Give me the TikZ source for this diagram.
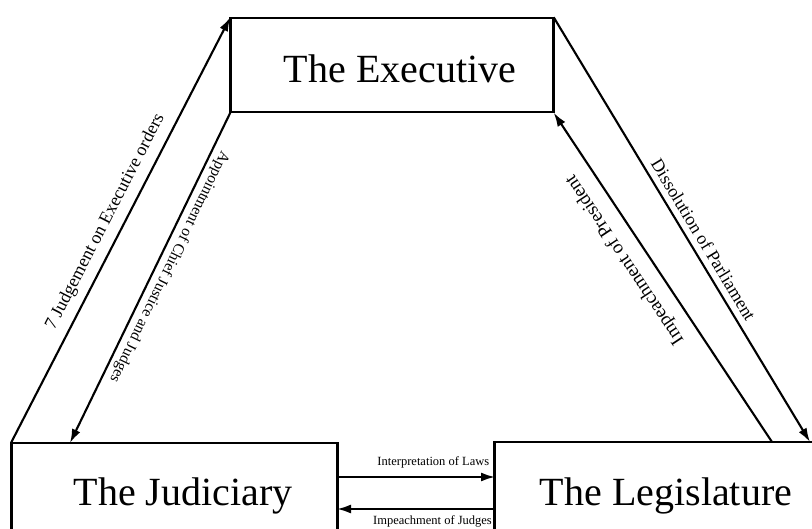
\documentclass[tikz,border=0pt]{standalone}
\usepackage{fontspec}
\setmainfont{Liberation Serif}
\usetikzlibrary{arrows.meta}
\begin{document}
\begin{tikzpicture}[x=1pt,y=-1pt,
  box/.style={draw, line width=1.4pt, inner sep=0pt},
  edge/.style={line width=2.6pt},
  arr/.style={line width=2.1pt, -{Latex[length=14pt,width=9pt]}},
  title/.style={font=\fontsize{40}{40}\selectfont, anchor=base, inner sep=0pt},
  lab/.style={anchor=south, inner sep=0pt},
  small/.style={font=\fontsize{12.5}{12.5}\selectfont, inner sep=0pt}]
\useasboundingbox (0,0) rectangle (812,529);
\clip (0,0) rectangle (812,529);
% boxes
\node[box, minimum width=322pt, minimum height=94pt] (exec) at (392,65) {};
\node[box, minimum width=325pt, minimum height=120pt] (jud) at (174.5,503) {};
\node[box, minimum width=360pt, minimum height=120pt] (leg) at (675,502) {};
\draw[edge] (exec.north west) -- (exec.south west);
\draw[edge] (exec.north east) -- (exec.south east);
\draw[edge] (jud.north west) -- (jud.south west);
\draw[edge] (jud.north east) -- (jud.south east);
\draw[edge] (leg.north west) -- (leg.south west);
% coordinates on box edges
\coordinate (jA) at (70,443);
\coordinate (lA) at (772,442);
\coordinate (lB) at (810,442);
\coordinate (i1) at (337,477);
\coordinate (i2) at (495,477);
\coordinate (k1) at (495,509);
\coordinate (k2) at (337,509);
% diagonal connectors
\draw[arr] (jud.north west) -- node[lab, font=\fontsize{18}{18}\selectfont, pos=.5, rotate=62.74, inner ysep=8pt]{7 Judgement on Executive orders} (exec.north west);
\draw[arr] (exec.south west) -- node[lab, font=\fontsize{15.5}{15.5}\selectfont, pos=.45, rotate=-115.94, inner ysep=4pt]{Appointment of Chief Justice and Judges} (jA);
\draw[arr] (lA) -- node[lab, font=\fontsize{19}{19}\selectfont, pos=.59, rotate=123.57, inner ysep=12pt]{Impeachment of President} (exec.south east);
\draw[arr] (exec.north east) -- node[lab, font=\fontsize{18}{18}\selectfont, pos=.54, rotate=-58.78, inner ysep=6pt]{Dissolution of Parliament} (lB);
% horizontal connectors
\draw[arr] (i1) -- node[small, pos=.97, anchor=south east, inner ysep=8pt]{Interpretation of Laws} (i2);
\draw[arr] (k1) -- node[small, pos=.778, anchor=north west, inner ysep=6pt]{Impeachment of Judges} (k2);
% titles
\node[title] (tE) at (400,83) {The Executive};
\node[title] (tJ) at (183,505) {The Judiciary};
\node[title] (tL) at (666,505) {The Legislature};
\end{tikzpicture}
\end{document}
